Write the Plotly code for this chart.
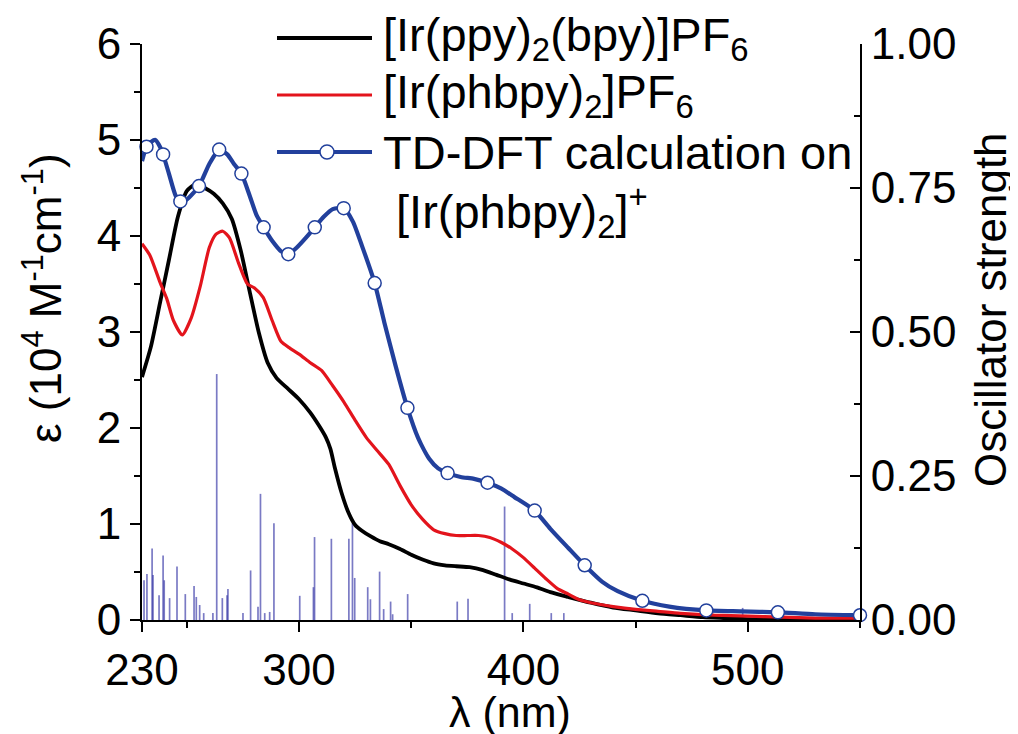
import plotly.graph_objects as go

# ---------------- data ----------------
wl_black = [230, 234, 238, 242, 246, 250, 254, 258, 262, 266, 270, 274, 278, 282, 286, 290, 295, 300,
            305, 309, 312, 314, 316, 319, 322, 325, 328, 332, 336, 340, 345, 350, 355, 360, 365, 370,
            376, 382, 388, 394, 400, 406, 412, 420, 430, 440, 450, 460, 470, 480, 490, 500, 520, 550]
eps_black = [2.53, 2.85, 3.30, 3.75, 4.20, 4.47, 4.54, 4.50, 4.44, 4.34, 4.18, 3.85, 3.42, 3.00, 2.68, 2.52,
             2.41, 2.30, 2.16, 2.02, 1.90, 1.78, 1.58, 1.32, 1.12, 0.99, 0.93, 0.87, 0.82, 0.79, 0.74, 0.68,
             0.63, 0.59, 0.57, 0.56, 0.55, 0.52, 0.47, 0.42, 0.38, 0.34, 0.29, 0.24, 0.18, 0.13, 0.10, 0.07,
             0.05, 0.03, 0.02, 0.01, 0.00, 0.00]

wl_red = [230, 233.5, 238, 241, 244, 248, 252, 256, 260, 263, 266, 269, 273, 277, 280, 284, 288, 292,
          296, 300, 305, 310, 315, 320, 325, 330, 335, 340, 345, 350, 355, 360, 365, 370, 375, 380, 385,
          390, 395, 400, 405, 410, 415, 420, 425, 430, 440, 450, 460, 470, 485, 500, 515, 530, 550]
eps_red = [3.92, 3.80, 3.52, 3.35, 3.12, 2.97, 3.15, 3.48, 3.88, 4.02, 4.05, 3.98, 3.72, 3.50, 3.46, 3.36,
           3.12, 2.90, 2.83, 2.77, 2.68, 2.60, 2.44, 2.27, 2.08, 1.90, 1.76, 1.62, 1.40, 1.20, 1.05, 0.94,
           0.90, 0.88, 0.88, 0.88, 0.86, 0.81, 0.74, 0.65, 0.54, 0.43, 0.33, 0.27, 0.21, 0.18, 0.14, 0.11,
           0.09, 0.07, 0.05, 0.04, 0.03, 0.02, 0.02]

wl_calc = [230, 232, 234, 236, 238, 239.4, 242, 245, 247.1, 250, 255.4, 260, 264.4, 268, 271, 274.3, 278,
           281, 284.2, 288, 292, 295.2, 299, 303, 307, 311, 315, 319.9, 324, 328, 333.7, 338, 343, 348.3,
           353, 358, 362, 366.2, 372, 378, 384, 390, 396, 405, 412, 420, 427.3, 435, 442, 453, 465, 481.5,
           497, 513.4, 530, 550]
eps_calc = [4.78, 4.93, 4.98, 5.00, 4.93, 4.85, 4.65, 4.42, 4.36, 4.38, 4.52, 4.75, 4.90, 4.85, 4.75, 4.65,
            4.42, 4.22, 4.09, 3.95, 3.84, 3.81, 3.88, 3.98, 4.09, 4.20, 4.28, 4.29, 4.15, 3.90, 3.51, 3.10,
            2.65, 2.21, 1.90, 1.68, 1.58, 1.53, 1.49, 1.47, 1.43, 1.37, 1.28, 1.14, 0.95, 0.75, 0.57, 0.40,
            0.30, 0.20, 0.14, 0.10, 0.09, 0.08, 0.06, 0.05]

wl_calc_mk = [232, 239.4, 247.1, 255.4, 264.4, 274.3, 284.2, 295.2, 307, 319.9, 333.7, 348.3, 366.2,
              384, 405, 427.3, 453, 481.5, 513.4, 550]
eps_calc_mk = [4.93, 4.85, 4.36, 4.52, 4.90, 4.65, 4.09, 3.81, 4.09, 4.29, 3.51, 2.21, 1.53, 1.43, 1.14,
               0.57, 0.20, 0.10, 0.08, 0.05]

stick_wl = [230.9, 232.2, 234.5, 234.9, 237.6, 239.4, 239.9, 242.3, 245.6, 249.3, 253.2, 254.2, 255.7,
            257.5, 261.6, 263.3, 265.8, 267.9, 268.3, 275.0, 278.4, 281.7, 282.8, 284.7, 286.9, 288.8,
            300.3, 306.4, 306.9, 314.4, 322.2, 323.8, 324.8, 330.6, 331.8, 335.9, 337.7, 340.8, 341.7,
            348.4, 370.5, 375.3, 391.6, 395.0, 402.8, 412.4, 418.0, 497.7]
stick_f = [0.069, 0.080, 0.124, 0.078, 0.043, 0.112, 0.069, 0.038, 0.093, 0.045, 0.059, 0.040, 0.026,
           0.012, 0.012, 0.427, 0.038, 0.043, 0.054, 0.012, 0.086, 0.023, 0.219, 0.012, 0.014, 0.168,
           0.042, 0.057, 0.144, 0.141, 0.141, 0.168, 0.073, 0.057, 0.036, 0.084, 0.019, 0.032, 0.010,
           0.045, 0.032, 0.037, 0.197, 0.012, 0.028, 0.012, 0.012, 0.021]

x_ticks = [230, 300, 400, 500]
x_minor = [250, 350, 450, 550]
eps_ticks = [0, 1, 2, 3, 4, 5, 6]
osc_ticks = [0, 0.25, 0.5, 0.75, 1.0]
osc_ticktext = ["0.00", "0.25", "0.50", "0.75", "1.00"]

labels = ["[Ir(ppy)<sub>2</sub>(bpy)]PF<sub>6</sub>",
          "[Ir(phbpy)<sub>2</sub>]PF<sub>6</sub>",
          "TD-DFT calculation on",
          " [Ir(phbpy)<sub>2</sub>]<sup>+</sup>"]

BLACK = "#000000"
RED = "#e3141c"
BLUE = "#22409c"
STICK = "rgba(50,50,165,0.65)"
FONT = "Arial, Liberation Sans, sans-serif"

# ---------------- figure ----------------
fig = go.Figure()

sx, sy = [], []
for w, f in zip(stick_wl, stick_f):
    sx += [w, w, None]
    sy += [0, f, None]
fig.add_trace(go.Scatter(x=sx, y=sy, mode="lines", yaxis="y",
                         line=dict(color=STICK, width=1.7), hoverinfo="skip", showlegend=False))

fig.add_trace(go.Scatter(x=wl_black, y=eps_black, mode="lines", yaxis="y2",
                         line=dict(color=BLACK, width=3.8, shape="spline", smoothing=0.6),
                         showlegend=False))
fig.add_trace(go.Scatter(x=wl_red, y=eps_red, mode="lines", yaxis="y2",
                         line=dict(color=RED, width=3.2, shape="spline", smoothing=0.6),
                         showlegend=False))
fig.add_trace(go.Scatter(x=wl_calc, y=eps_calc, mode="lines", yaxis="y2",
                         line=dict(color=BLUE, width=4.2, shape="spline", smoothing=0.6),
                         showlegend=False))
fig.add_trace(go.Scatter(x=wl_calc_mk, y=eps_calc_mk, mode="markers", yaxis="y2",
                         marker=dict(symbol="circle", size=13, color="white",
                                     line=dict(color=BLUE, width=1.5)),
                         cliponaxis=False, showlegend=False))

# page has an 8px body margin: the figure starts at (8, 8) of the window
OFF = 8
W, H = 1018 - OFF, 734 - OFF
L, T = 142 - OFF, 44 - OFF
R, B = 1018 - 860, 734 - 620
pw, ph = W - L - R, H - T - B


def px2paper(px, py):
    """Window pixel position (reference picture) -> paper coordinates."""
    return (px - OFF - L) / pw, (H - B - (py - OFF)) / ph


# manual legend
rows_y = [38, 95, 152]
colors = [BLACK, RED, BLUE]
widths = [3.8, 3.2, 4.2]
shapes = []
annotations = []
for yy, c, wdt, lab in zip(rows_y, colors, widths, labels[:3]):
    x0, y0 = px2paper(277, yy)
    x1, _ = px2paper(372, yy)
    shapes.append(dict(type="line", xref="paper", yref="paper", x0=x0, x1=x1, y0=y0, y1=y0,
                       line=dict(color=c, width=wdt)))
    tx, _ = px2paper(381, yy)
    annotations.append(dict(xref="paper", yref="paper", x=tx, y=y0, xanchor="left", yanchor="middle",
                            text=lab, showarrow=False, font=dict(size=47, color="black", family=FONT)))
mx, my = px2paper(327, 152)
shapes.append(dict(type="circle", xref="paper", yref="paper", xsizemode="pixel", ysizemode="pixel",
                   xanchor=mx, yanchor=my, x0=-7, x1=7, y0=-7, y1=7,
                   fillcolor="white", line=dict(color=BLUE, width=1.5)))
tx, ty = px2paper(381, 212)
annotations.append(dict(xref="paper", yref="paper", x=tx, y=ty, xanchor="left", yanchor="middle",
                        text=labels[3], showarrow=False, font=dict(size=47, color="black", family=FONT)))

# axis titles
annotations.append(dict(xref="paper", yref="paper", x=px2paper(42, 0)[0], y=px2paper(0, 298)[1],
                        text="ε (10<sup>4</sup> M<sup>-1</sup>cm<sup>-1</sup>)", textangle=-90,
                        showarrow=False, xanchor="center", yanchor="middle",
                        font=dict(size=44, color="black", family=FONT)))
annotations.append(dict(xref="paper", yref="paper", x=px2paper(990, 0)[0], y=px2paper(0, 310)[1],
                        text="Oscillator strength", textangle=-90,
                        showarrow=False, xanchor="center", yanchor="middle",
                        font=dict(size=44, color="black", family=FONT)))
annotations.append(dict(xref="paper", yref="paper", x=px2paper(510, 0)[0], y=px2paper(0, 712)[1],
                        text="λ (nm)", showarrow=False, xanchor="center", yanchor="middle",
                        font=dict(size=43, color="black", family=FONT)))

axis_common = dict(showgrid=False, zeroline=False, showline=True, linecolor="black", linewidth=2,
                   tickcolor="black", tickwidth=2, automargin=False,
                   tickfont=dict(size=44, color="black", family=FONT))

fig.update_layout(
    width=W, height=H,
    margin=dict(l=L, r=R, t=T, b=B, autoexpand=False),
    paper_bgcolor="white", plot_bgcolor="white",
    font=dict(family=FONT, color="black"),
    showlegend=False,
    xaxis=dict(range=[230, 550], tickmode="array", tickvals=x_ticks, ticks="outside", ticklen=10,
               minor=dict(tickmode="array", tickvals=x_minor, ticks="outside", ticklen=6,
                          tickcolor="black", tickwidth=2),
               **axis_common),
    yaxis=dict(range=[0, 1], side="right", tickmode="array", tickvals=osc_ticks, ticktext=osc_ticktext,
               ticks="inside", ticklen=10, anchor="x",
               minor=dict(tickmode="array", tickvals=[0.125, 0.375, 0.625, 0.875], ticks="inside",
                          ticklen=6, tickcolor="black", tickwidth=2),
               **axis_common),
    yaxis2=dict(range=[0, 6], side="left", overlaying="y", anchor="x", tickmode="array",
                tickvals=eps_ticks, ticks="outside", ticklen=10,
                minor=dict(tickmode="array", tickvals=[0.5, 1.5, 2.5, 3.5, 4.5, 5.5], ticks="outside",
                           ticklen=6, tickcolor="black", tickwidth=2),
                **axis_common),
    shapes=shapes,
    annotations=annotations,
)

fig.write_html("out.html")
